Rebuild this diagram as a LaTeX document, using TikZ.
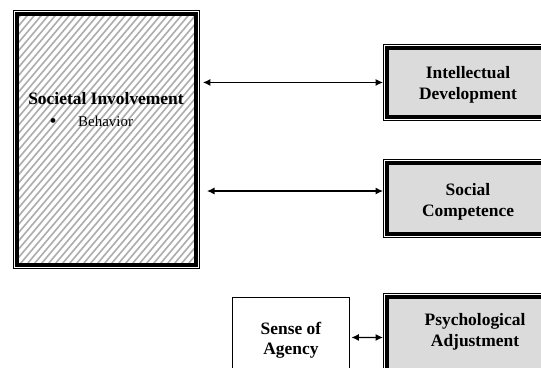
\documentclass[tikz,border=0pt]{standalone}
\usepackage{fontspec}
\setmainfont{Liberation Serif}
\usetikzlibrary{arrows.meta}
\definecolor{boxgray}{gray}{0.86}
\definecolor{hatchgray}{gray}{0.68}
\begin{document}
\begin{tikzpicture}[x=1bp,y=-1bp,
  lbl/.style={font=\fontsize{17.5}{20.5}\selectfont\bfseries, align=center, inner sep=0},
  plain/.style={font=\fontsize{15}{18}\selectfont, inner sep=0},
  framebox/.style={draw, line width=0.9bp, anchor=north west, inner sep=0},
  thickframe/.style={line width=3.6bp},
  link/.style={line width=1.1bp, {Latex[length=7.5bp,width=7bp]}-{Latex[length=7.5bp,width=7bp]}}]
\clip (0,0) rectangle (541,367);
\fill[white] (0,0) rectangle (541,367);

% outer thin frames
\node[framebox, minimum width=186bp, minimum height=258bp] (soc) at (13,10) {};
\node[framebox, minimum width=180bp, minimum height=76bp] (intel) at (383,44) {};
\node[framebox, minimum width=180bp, minimum height=78bp] (social) at (383,159) {};
\node[framebox, minimum width=190bp, minimum height=88bp] (psych) at (383,293) {};
\node[framebox, minimum width=117bp, minimum height=80bp] (agency) at (232,297) {};

% hatched interior of the large box
\begin{scope}
  \clip ([shift={(4,4)}]soc.north west) rectangle ([shift={(-4,-4)}]soc.south east);
  \foreach \i in {-300,-293,...,200}
    \draw[hatchgray, line width=1.6bp] (\i,270) -- ++(220,-260);
\end{scope}
\draw[thickframe] ([shift={(4,4)}]soc.north west) rectangle ([shift={(-4,-4)}]soc.south east);

% grey boxes with thick inner frame
\foreach \b in {intel,social,psych}
  \draw[thickframe, fill=boxgray] ([shift={(4,4)}]\b.north west) rectangle ([shift={(-4,-4)}]\b.south east);

% texts
\node[lbl, anchor=base] (socT) at (106,104) {Societal Involvement};
\node[plain, anchor=base, font=\fontsize{20}{20}\selectfont] (bul) at (53,127) {\textbullet};
\node[plain, anchor=base west] (beh) at (78,126) {Behavior};
\node[lbl] (intelT) at (468,85) {Intellectual\\Development};
\node[lbl] (socialT) at (468,202) {Social\\Competence};
\node[lbl] (psychT) at (475,332) {Psychological\\Adjustment};
\node[lbl] (agencyT) at (291,340) {Sense of\\Agency};

% connectors
\coordinate (s2) at (207,191);
\draw[link] ([xshift=3bp]soc.east |- intel.west) -- (intel.west);
\draw[link] (s2) -- (social.west |- s2);
\draw[link] ([xshift=1.5bp]agency.east) -- (psych.west);
\end{tikzpicture}
\end{document}
